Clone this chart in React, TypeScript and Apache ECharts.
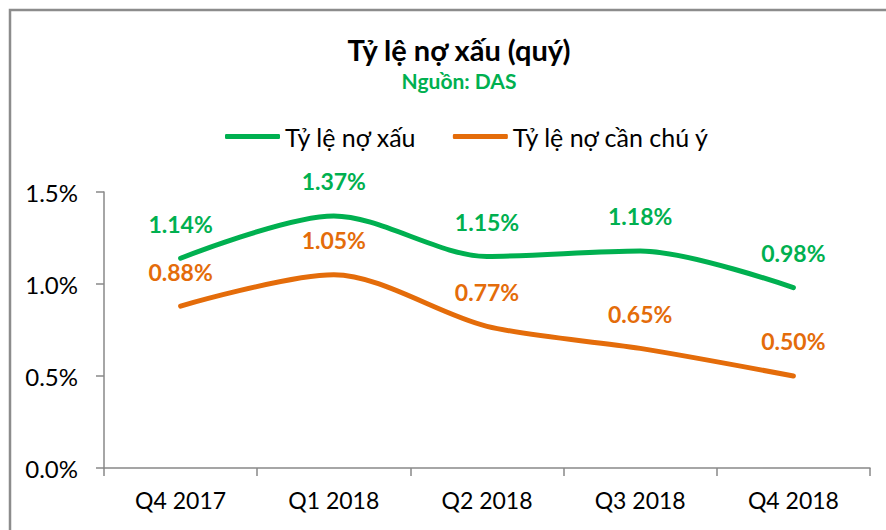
import React, { useEffect, useRef } from "react";
import * as echarts from "echarts";

const categories = ["Q4 2017", "Q1 2018", "Q2 2018", "Q3 2018", "Q4 2018"];
const npl = [1.14, 1.37, 1.15, 1.18, 0.98];
const special = [0.88, 1.05, 0.77, 0.65, 0.5];
const seriesNames = ["Tỷ lệ nợ xấu", "Tỷ lệ nợ cần chú ý"];
const GREEN = "#00B050";
const ORANGE = "#E46C0A";
const FONT = "Lato, 'Open Sans', sans-serif";

export default function App() {
  const ref = useRef<HTMLDivElement>(null);
  useEffect(() => {
    if (!ref.current) return;
    const chart = echarts.init(ref.current, undefined, { renderer: "svg" });
    const lbl = (color: string) => ({
      show: true,
      position: "top",
      distance: 23,
      color,
      fontSize: 23,
      fontWeight: "bold",
      fontFamily: FONT,
      formatter: (p: any) => p.value.toFixed(2) + "%",
    });
    chart.setOption({
      animation: false,
      backgroundColor: "#fff",
      textStyle: { fontFamily: FONT },
      graphic: [
        {
          type: "rect",
          shape: { x: 10, y: 10, width: 1000, height: 1000 },
          style: { fill: "none", stroke: "#8c8c8c", lineWidth: 2.5 },
          silent: true,
        },
      ],
      title: {
        text: "Tỷ lệ nợ xấu (quý)",
        subtext: "Nguồn: DAS",
        left: 454,
        textAlign: "center",
        top: 30,
        itemGap: 6,
        textStyle: { fontSize: 29, fontWeight: "bold", color: "#000", fontFamily: FONT },
        subtextStyle: { fontSize: 21, fontWeight: "bold", color: GREEN, fontFamily: FONT },
      },
      legend: {
        left: 220,
        top: 119,
        itemWidth: 55,
        itemHeight: 5,
        itemGap: 36,
        icon: "roundRect",
        textStyle: { fontSize: 25, color: "#000", fontFamily: FONT },
        data: seriesNames,
      },
      grid: { left: 104, right: 16, top: 192, bottom: 62 },
      xAxis: {
        type: "category",
        data: categories,
        boundaryGap: true,
        axisLine: { lineStyle: { color: "#888", width: 1.5 } },
        axisTick: { show: true, length: 8, alignWithLabel: false, lineStyle: { color: "#888", width: 1.5 } },
        axisLabel: { fontSize: 23, color: "#000", margin: 20, fontFamily: FONT },
      },
      yAxis: {
        type: "value",
        min: 0,
        max: 1.5,
        interval: 0.5,
        axisLine: { show: true, lineStyle: { color: "#888", width: 1.5 } },
        axisTick: { show: true, length: 8, lineStyle: { color: "#888", width: 1.5 } },
        splitLine: { show: false },
        axisLabel: {
          fontSize: 24,
          color: "#000",
          margin: 26,
          fontFamily: FONT,
          formatter: (v: number) => v.toFixed(1) + "%",
        },
      },
      series: [
        {
          name: seriesNames[0],
          type: "line",
          data: npl,
          smooth: 0.3,
          symbol: "circle",
          symbolSize: 0.01,
          color: GREEN,
          lineStyle: { width: 5, color: GREEN, cap: "round" },
          label: lbl(GREEN),
        },
        {
          name: seriesNames[1],
          type: "line",
          data: special,
          smooth: 0.3,
          symbol: "circle",
          symbolSize: 0.01,
          color: ORANGE,
          lineStyle: { width: 5, color: ORANGE, cap: "round" },
          label: lbl(ORANGE),
        },
      ],
    });
    return () => chart.dispose();
  }, []);
  return (
    <div
      ref={ref}
      style={{ position: "fixed", left: 0, top: 0, width: 886, height: 530 }}
    />
  );
}
